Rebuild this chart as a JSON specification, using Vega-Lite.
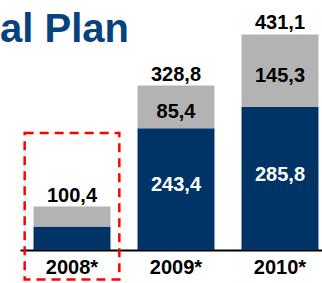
{
  "$schema": "https://vega.github.io/schema/vega-lite/v6.json",
  "width": 312,
  "height": 250,
  "autosize": "none",
  "padding": {"left": 20, "top": 0, "right": 0, "bottom": 33},
  "background": "white",
  "config": {"view": {"stroke": null}, "font": "Liberation Sans"},
  "title": {
    "text": "al Plan",
    "anchor": "start",
    "dx": -20,
    "offset": -82,
    "baseline": "alphabetic",
    "fontSize": 40,
    "fontWeight": "bold",
    "color": "#06437e",
    "font": "Liberation Sans"
  },
  "datasets": {
    "segments": [
      {"year": "2008*", "part": "dark", "order": 1, "value": 47, "label": ""},
      {"year": "2008*", "part": "gray", "order": 2, "value": 40, "label": ""},
      {"year": "2009*", "part": "dark", "order": 1, "value": 243.4, "label": "243,4"},
      {"year": "2009*", "part": "gray", "order": 2, "value": 85.4, "label": "85,4"},
      {"year": "2010*", "part": "dark", "order": 1, "value": 285.8, "label": "285,8"},
      {"year": "2010*", "part": "gray", "order": 2, "value": 145.3, "label": "145,3"}
    ],
    "totals": [
      {"year": "2008*", "total": 87, "label": "100,4"},
      {"year": "2009*", "total": 328.8, "label": "328,8"},
      {"year": "2010*", "total": 431.1, "label": "431,1"}
    ],
    "highlight": [
      {"year": "2008*", "lo": -59, "hi": 234}
    ]
  },
  "encoding": {
    "x": {
      "field": "year",
      "type": "nominal",
      "sort": ["2008*", "2009*", "2010*"],
      "scale": {"paddingInner": 0.26, "paddingOuter": 0.13},
      "axis": {
        "title": null,
        "ticks": false,
        "labelAngle": 0,
        "labelFontSize": 20,
        "labelFontWeight": "bold",
        "labelColor": "#000000",
        "labelFont": "Liberation Sans",
        "labelPadding": 7,
        "domainColor": "#000000",
        "domainWidth": 2
      }
    }
  },
  "layer": [
    {
      "data": {"name": "segments"},
      "mark": {"type": "bar"},
      "encoding": {
        "y": {"field": "value", "type": "quantitative", "stack": "zero", "scale": {"domain": [0, 488]}, "axis": null},
        "color": {"field": "part", "type": "nominal", "scale": {"domain": ["dark", "gray"], "range": ["#003366", "#b3b3b3"]}, "legend": null},
        "order": {"field": "order", "type": "quantitative"}
      }
    },
    {
      "data": {"name": "highlight"},
      "mark": {"type": "bar", "filled": false, "stroke": "#ff0000", "strokeWidth": 2.5, "strokeDash": [9, 6], "width": {"band": 1.23}, "clip": false},
      "encoding": {
        "y": {"field": "lo", "type": "quantitative"},
        "y2": {"field": "hi"}
      }
    },
    {
      "data": {"name": "segments"},
      "transform": [
        {"stack": "value", "groupby": ["year"], "sort": [{"field": "order"}], "as": ["v0", "v1"]},
        {"calculate": "(datum.v0 + datum.v1) / 2", "as": "mid"},
        {"filter": "datum.part === 'dark'"}
      ],
      "mark": {"type": "text", "fontSize": 20, "fontWeight": "bold", "color": "#ffffff", "font": "Liberation Sans", "dy": -4},
      "encoding": {
        "y": {"field": "mid", "type": "quantitative"},
        "text": {"field": "label"}
      }
    },
    {
      "data": {"name": "segments"},
      "transform": [
        {"stack": "value", "groupby": ["year"], "sort": [{"field": "order"}], "as": ["v0", "v1"]},
        {"calculate": "(datum.v0 + datum.v1) / 2", "as": "mid"},
        {"filter": "datum.part === 'gray'"}
      ],
      "mark": {"type": "text", "fontSize": 20, "fontWeight": "bold", "color": "#000000", "font": "Liberation Sans", "dy": 5},
      "encoding": {
        "y": {"field": "mid", "type": "quantitative"},
        "text": {"field": "label"}
      }
    },
    {
      "data": {"name": "totals"},
      "mark": {"type": "text", "fontSize": 20, "fontWeight": "bold", "color": "#000000", "baseline": "bottom", "dy": -1, "font": "Liberation Sans"},
      "encoding": {
        "y": {"field": "total", "type": "quantitative"},
        "text": {"field": "label"}
      }
    }
  ]
}
